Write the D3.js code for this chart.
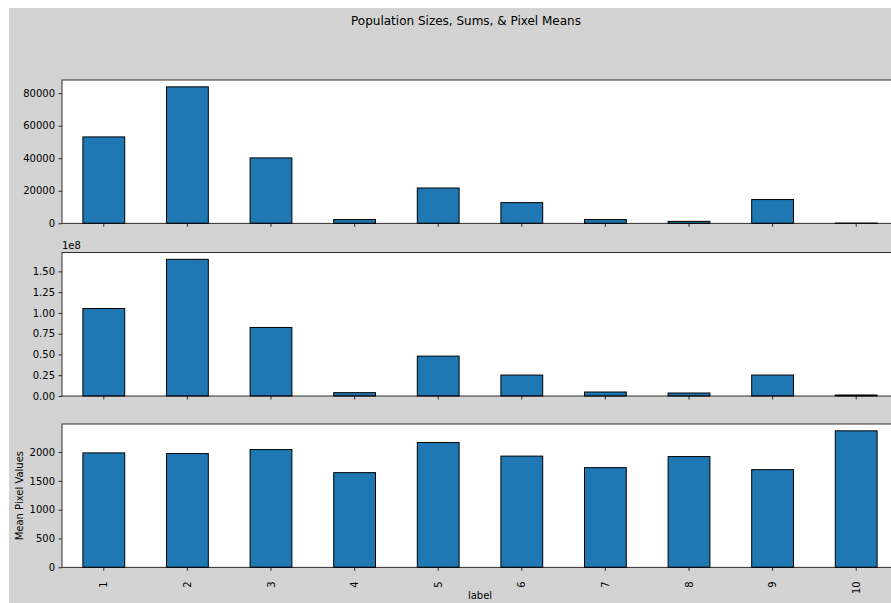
<!DOCTYPE html>
<html>
<head>
<meta charset="utf-8">
<script src="https://cdn.jsdelivr.net/npm/d3@7"></script>
<style>
  html, body { margin: 0; padding: 0; background: #ffffff; }
  svg { display: block; }
  text { font-family: "DejaVu Sans", sans-serif; fill: #000; }
</style>
</head>
<body>
<div id="chart"></div>
<script>
// ---- data ----
const labels = ["1", "2", "3", "4", "5", "6", "7", "8", "9", "10"];
const popSizes = [53100, 83900, 40200, 2300, 21700, 12700, 2300, 1200, 14600, 150];
const popSums = [1.053e8, 1.645e8, 0.825e8, 0.040e8, 0.480e8, 0.252e8, 0.048e8, 0.036e8, 0.252e8, 0.012e8];
const pixelMeans = [1986, 1974, 2044, 1643, 2166, 1930, 1730, 1922, 1695, 2369];
const sizeTicks = [0, 20000, 40000, 60000, 80000];
const sumTicks = [0, 0.25e8, 0.5e8, 0.75e8, 1.0e8, 1.25e8, 1.5e8];
const meanTicks = [0, 500, 1000, 1500, 2000];

const titleText = "Population Sizes, Sums, & Pixel Means";
const xLabel = "label";
const yLabelBottom = "Mean Pixel Values";

// ---- layout ----
const W = 891, H = 603;
const svg = d3.select("#chart").append("svg").attr("width", W).attr("height", H);

svg.append("rect").attr("x", 9).attr("y", 8).attr("width", W - 9).attr("height", H - 8)
  .attr("fill", "#d3d3d3");

svg.append("text").attr("x", 466).attr("y", 25).attr("text-anchor", "middle")
  .style("font-size", "12px").text(titleText);

const plotLeft = 62, plotRight = 898;
const x = d3.scaleBand().domain(labels).range([plotLeft, plotRight])
  .paddingInner(0.5).paddingOuter(0.25);

const panels = [
  { values: popSizes, ticks: sizeTicks, top: 80, bottom: 223.3, fmt: d3.format("d"), showX: false },
  { values: popSums, ticks: sumTicks, top: 252.5, bottom: 396, fmt: d => (d / 1e8).toFixed(2), showX: false, offset: "1e8" },
  { values: pixelMeans, ticks: meanTicks, top: 424, bottom: 567.3, fmt: d3.format("d"), showX: true, ylabel: yLabelBottom }
];

panels.forEach(p => {
  const g = svg.append("g");
  const y = d3.scaleLinear().domain([0, d3.max(p.values) * 1.05]).range([p.bottom, p.top]);

  g.append("rect").attr("x", plotLeft).attr("y", p.top)
    .attr("width", plotRight - plotLeft).attr("height", p.bottom - p.top).attr("fill", "#ffffff");

  g.selectAll("rect.bar").data(p.values).enter().append("rect")
    .attr("class", "bar")
    .attr("x", (d, i) => x(labels[i]))
    .attr("y", d => y(d))
    .attr("width", x.bandwidth())
    .attr("height", d => y(0) - y(d))
    .attr("fill", "#1f77b4")
    .attr("stroke", "#000")
    .attr("stroke-width", 1);

  // spines
  g.append("rect").attr("x", plotLeft).attr("y", p.top)
    .attr("width", plotRight - plotLeft).attr("height", p.bottom - p.top)
    .attr("fill", "none").attr("stroke", "#000").attr("stroke-width", 0.8);

  // y axis
  const yAxis = d3.axisLeft(y).tickValues(p.ticks).tickFormat(p.fmt).tickSize(3.5).tickPadding(3.5);
  const ya = g.append("g").attr("transform", `translate(${plotLeft},0)`).call(yAxis);
  ya.select(".domain").remove();
  ya.selectAll("line").attr("stroke", "#000").attr("stroke-width", 0.8);
  ya.selectAll("text").style("font-size", "10px").attr("fill", "#000").attr("font-family", null);

  // x axis
  const xAxis = d3.axisBottom(x).tickSize(3.5).tickPadding(3.5).tickFormat(p.showX ? (d => d) : "");
  const xa = g.append("g").attr("transform", `translate(0,${p.bottom})`).call(xAxis);
  xa.select(".domain").remove();
  xa.selectAll("line").attr("stroke", "#000").attr("stroke-width", 0.8);
  if (p.showX) {
    xa.selectAll("text")
      .style("font-size", "10px").attr("fill", "#000").attr("font-family", null)
      .attr("text-anchor", "end")
      .attr("dy", "0.35em")
      .attr("transform", function () {
        const yy = +d3.select(this).attr("y");
        return `translate(0,${yy}) rotate(-90)`;
      })
      .attr("y", 0).attr("x", -7);
  }

  if (p.offset) {
    g.append("text").attr("x", plotLeft).attr("y", p.top - 4)
      .style("font-size", "10px").text(p.offset);
  }
  if (p.ylabel) {
    g.append("text")
      .attr("transform", `translate(23,${(p.top + p.bottom) / 2}) rotate(-90)`)
      .attr("text-anchor", "middle").style("font-size", "10px").text(p.ylabel);
  }
  if (p.showX) {
    g.append("text").attr("x", (plotLeft + plotRight) / 2).attr("y", 599)
      .attr("text-anchor", "middle").style("font-size", "10px").text(xLabel);
  }
});
</script>
</body>
</html>
